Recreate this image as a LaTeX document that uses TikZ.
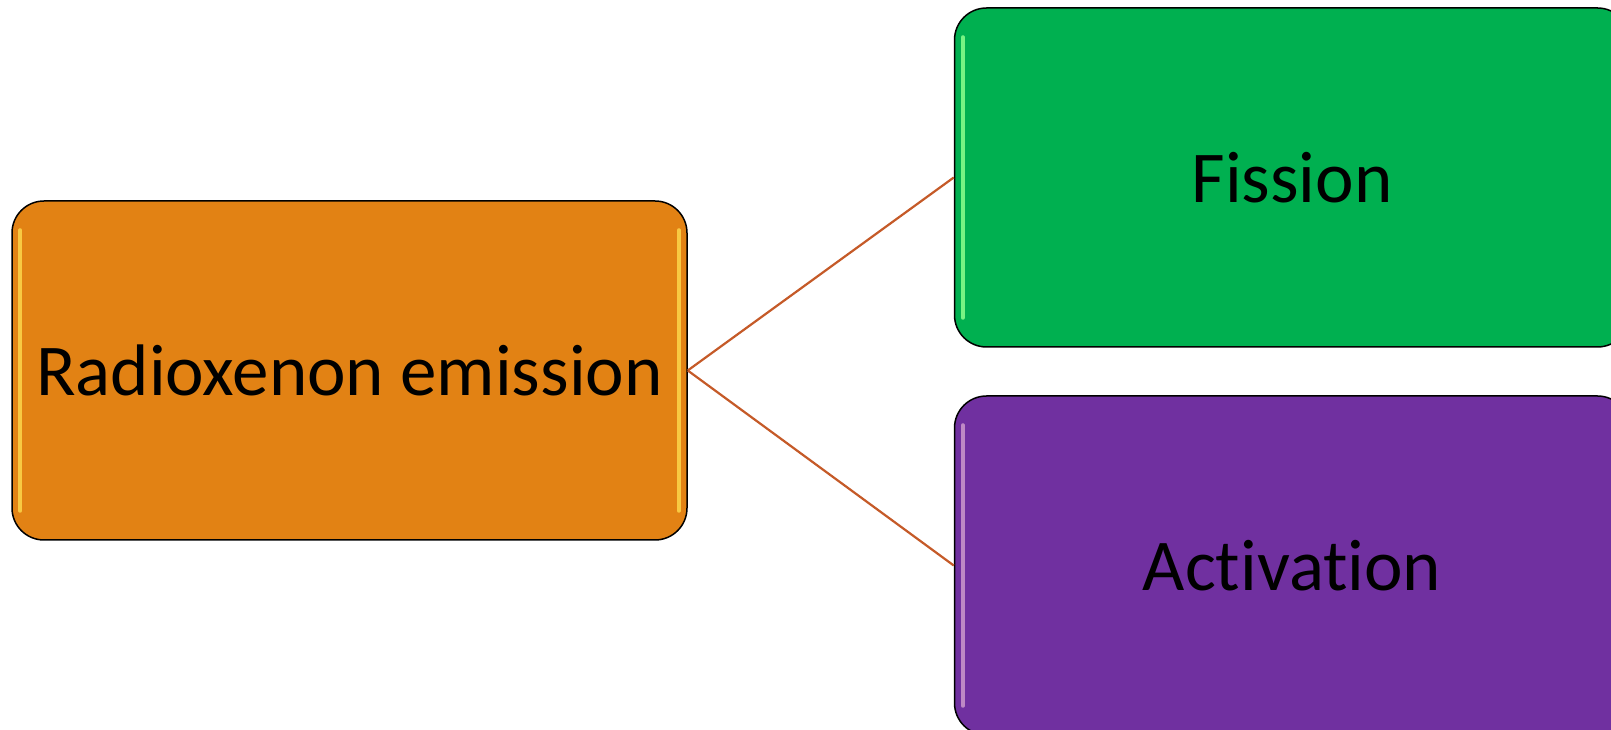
\documentclass[tikz,border=0pt]{standalone}
\usepackage{fontspec}
\setmainfont[Ligatures={NoCommon}]{Carlito}
\usetikzlibrary{arrows,positioning}

\definecolor{boxorange}{RGB}{226,130,20}
\definecolor{boxgreen}{RGB}{0,176,80}
\definecolor{boxpurple}{RGB}{112,48,160}
\definecolor{linkbrown}{RGB}{197,90,40}

\begin{document}
\begin{tikzpicture}[x=1pt,y=1pt,
	box/.style={draw=black, line width=1.5pt, rounded corners=32pt,
		minimum width=675pt, minimum height=339pt, inner sep=0pt,
		font=\fontsize{73pt}{80pt}\selectfont},
	link/.style={linkbrown, line width=2.2pt},
	gloss/.style={line width=4pt, line cap=round, opacity=0.85}]
	\useasboundingbox (0,0) rectangle (1611,730);

	\node [box, fill=boxorange] (emit) at (349.5,359.5) {Radioxenon emission};

	\node [box, fill=boxgreen] (fission) at (1292,552.5) {Fission};

	\node [box, fill=boxpurple] (activ) at (1292,164.5) {Activation};

	\draw [gloss, yellow!60!orange!70] ([xshift=9pt,yshift=-30pt]emit.north west) -- ([xshift=9pt,yshift=30pt]emit.south west);
	\draw [gloss, yellow!60!orange!70] ([xshift=-9pt,yshift=-30pt]emit.north east) -- ([xshift=-9pt,yshift=30pt]emit.south east);

	\draw [gloss, green!45!white] ([xshift=9pt,yshift=-30pt]fission.north west) -- ([xshift=9pt,yshift=30pt]fission.south west);

	\draw [gloss, violet!40!white] ([xshift=9pt,yshift=-30pt]activ.north west) -- ([xshift=9pt,yshift=30pt]activ.south west);

	\draw [link] (emit.east) -- (fission.west);

	\draw [link] (emit.east) -- (activ.west);
\end{tikzpicture}
\end{document}
